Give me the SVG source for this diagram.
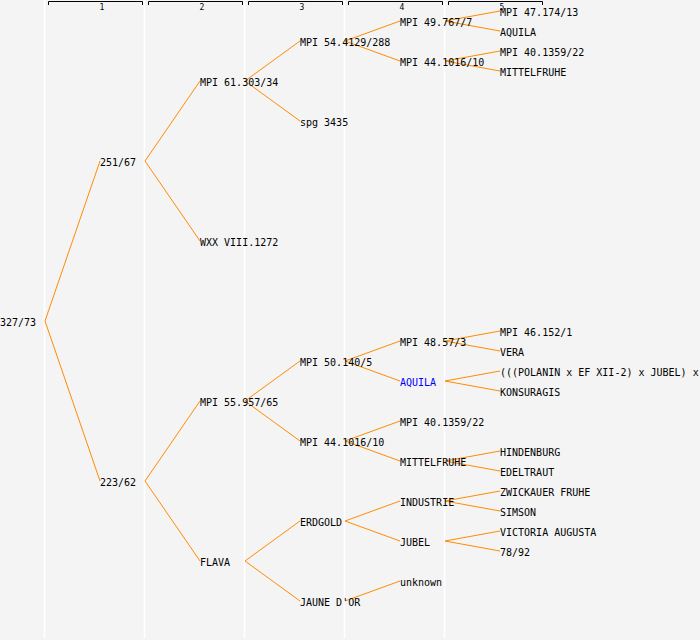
<svg xmlns="http://www.w3.org/2000/svg" width="700" height="640" viewBox="0 0 700 640">
<style>
.bg{fill:#f4f4f4}
.sep{stroke:#ffffff;stroke-width:1.5}
.hdr{fill:none;stroke:#000000;stroke-width:1}
.hl{font-family:"DejaVu Sans Mono","Liberation Mono",monospace;font-size:8px;fill:#000;text-anchor:middle}
text.n{font-family:"DejaVu Sans Mono","Liberation Mono",monospace;font-size:10px;fill:#000000}
text.b{fill:#0000ff}
#connectors line{stroke:#ff8c00;stroke-width:1}
</style>
<rect class="bg" x="0" y="0" width="700" height="640"/>
<g id="separators">
<line class="sep" x1="44.5" y1="0" x2="44.5" y2="638"/>
<line class="sep" x1="144.5" y1="0" x2="144.5" y2="638"/>
<line class="sep" x1="244.5" y1="0" x2="244.5" y2="638"/>
<line class="sep" x1="344.5" y1="0" x2="344.5" y2="638"/>
<line class="sep" x1="444.5" y1="0" x2="444.5" y2="638"/>
</g>
<g id="header">
<path class="hdr" d="M48.5,5V1.5H142.5V5"/>
<path class="hdr" d="M148.5,5V1.5H242.5V5"/>
<path class="hdr" d="M248.5,5V1.5H342.5V5"/>
<path class="hdr" d="M348.5,5V1.5H442.5V5"/>
<path class="hdr" d="M448.5,5V1.5H542.5V5"/>
<text class="hl" x="102" y="10">1</text>
<text class="hl" x="202" y="10">2</text>
<text class="hl" x="302" y="10">3</text>
<text class="hl" x="402" y="10">4</text>
<text class="hl" x="502" y="10">5</text>
</g>
<g id="connectors">
<line x1="45" y1="321" x2="100" y2="161"/><line x1="45" y1="321" x2="100" y2="481"/>
<line x1="145" y1="161" x2="200" y2="81"/><line x1="145" y1="161" x2="200" y2="241"/>
<line x1="145" y1="481" x2="200" y2="401"/><line x1="145" y1="481" x2="200" y2="561"/>
<line x1="245" y1="81" x2="300" y2="41"/><line x1="245" y1="81" x2="300" y2="121"/>
<line x1="245" y1="401" x2="300" y2="361"/><line x1="245" y1="401" x2="300" y2="441"/>
<line x1="245" y1="561" x2="300" y2="521"/><line x1="245" y1="561" x2="300" y2="601"/>
<line x1="345" y1="41" x2="400" y2="21"/><line x1="345" y1="41" x2="400" y2="61"/>
<line x1="345" y1="361" x2="400" y2="341"/><line x1="345" y1="361" x2="400" y2="381"/>
<line x1="345" y1="441" x2="400" y2="421"/><line x1="345" y1="441" x2="400" y2="461"/>
<line x1="345" y1="521" x2="400" y2="501"/><line x1="345" y1="521" x2="400" y2="541"/>
<line x1="345" y1="601" x2="400" y2="581"/>
<line x1="445" y1="21" x2="500" y2="11"/><line x1="445" y1="21" x2="500" y2="31"/>
<line x1="445" y1="61" x2="500" y2="51"/><line x1="445" y1="61" x2="500" y2="71"/>
<line x1="445" y1="341" x2="500" y2="331"/><line x1="445" y1="341" x2="500" y2="351"/>
<line x1="445" y1="381" x2="500" y2="371"/><line x1="445" y1="381" x2="500" y2="391"/>
<line x1="445" y1="461" x2="500" y2="451"/><line x1="445" y1="461" x2="500" y2="471"/>
<line x1="445" y1="501" x2="500" y2="491"/><line x1="445" y1="501" x2="500" y2="511"/>
<line x1="445" y1="541" x2="500" y2="531"/><line x1="445" y1="541" x2="500" y2="551"/>
</g>
<g id="n0"><text class="n" x="0" y="326">327/73</text></g>
<g id="n1"><text class="n" x="100" y="166">251/67</text></g>
<g id="n2"><text class="n" x="100" y="486">223/62</text></g>
<g id="n3"><text class="n" x="200" y="86">MPI 61.303/34</text></g>
<g id="n4"><text class="n" x="200" y="246">WXX VIII.1272</text></g>
<g id="n5"><text class="n" x="200" y="406">MPI 55.957/65</text></g>
<g id="n6"><text class="n" x="200" y="566">FLAVA</text></g>
<g id="n7"><text class="n" x="300" y="46">MPI 54.4129/288</text></g>
<g id="n8"><text class="n" x="300" y="126">spg 3435</text></g>
<g id="n9"><text class="n" x="300" y="366">MPI 50.140/5</text></g>
<g id="n10"><text class="n" x="300" y="446">MPI 44.1016/10</text></g>
<g id="n11"><text class="n" x="300" y="526">ERDGOLD</text></g>
<g id="n12"><text class="n" x="300" y="606">JAUNE D'OR</text></g>
<g id="n13"><text class="n" x="400" y="26">MPI 49.767/7</text></g>
<g id="n14"><text class="n" x="400" y="66">MPI 44.1016/10</text></g>
<g id="n15"><text class="n" x="400" y="346">MPI 48.57/3</text></g>
<g id="n16"><text class="n b" x="400" y="386">AQUILA</text></g>
<g id="n17"><text class="n" x="400" y="426">MPI 40.1359/22</text></g>
<g id="n18"><text class="n" x="400" y="466">MITTELFRUHE</text></g>
<g id="n19"><text class="n" x="400" y="506">INDUSTRIE</text></g>
<g id="n20"><text class="n" x="400" y="546">JUBEL</text></g>
<g id="n21"><text class="n" x="400" y="586">unknown</text></g>
<g id="n22"><text class="n" x="500" y="16">MPI 47.174/13</text></g>
<g id="n23"><text class="n" x="500" y="36">AQUILA</text></g>
<g id="n24"><text class="n" x="500" y="56">MPI 40.1359/22</text></g>
<g id="n25"><text class="n" x="500" y="76">MITTELFRUHE</text></g>
<g id="n26"><text class="n" x="500" y="336">MPI 46.152/1</text></g>
<g id="n27"><text class="n" x="500" y="356">VERA</text></g>
<g id="n28"><text class="n" x="500" y="376">(((POLANIN x EF XII-2) x JUBEL) x</text></g>
<g id="n29"><text class="n" x="500" y="396">KONSURAGIS</text></g>
<g id="n30"><text class="n" x="500" y="456">HINDENBURG</text></g>
<g id="n31"><text class="n" x="500" y="476">EDELTRAUT</text></g>
<g id="n32"><text class="n" x="500" y="496">ZWICKAUER FRUHE</text></g>
<g id="n33"><text class="n" x="500" y="516">SIMSON</text></g>
<g id="n34"><text class="n" x="500" y="536">VICTORIA AUGUSTA</text></g>
<g id="n35"><text class="n" x="500" y="556">78/92</text></g>
</svg>
